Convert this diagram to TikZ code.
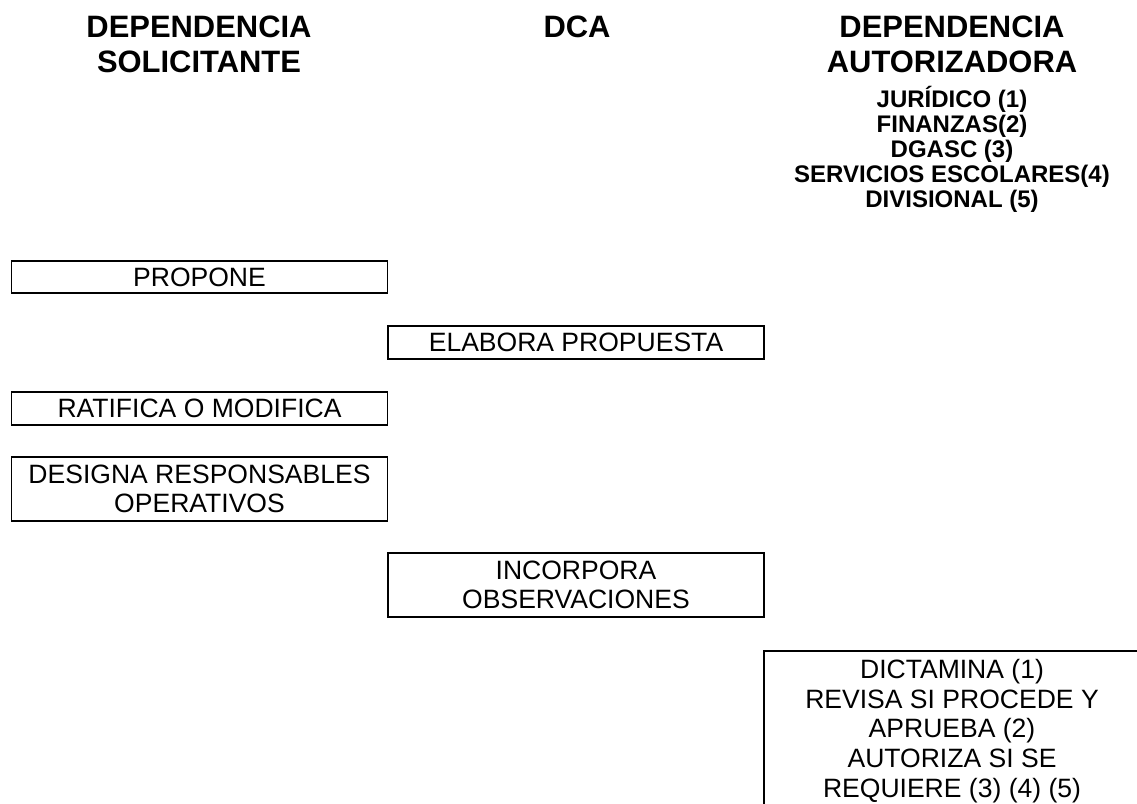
\documentclass[tikz,border=0pt]{standalone}
\usepackage{fontspec}
\setmainfont{Liberation Sans}
\begin{document}
\begin{tikzpicture}[x=0.75pt,y=-0.75pt,
  hdr/.style={anchor=base,inner sep=0pt,font=\fontsize{23.2}{26.3}\selectfont\bfseries},
  sub/.style={anchor=base,inner sep=0pt,font=\fontsize{18}{18.75}\selectfont\bfseries},
  actbox/.style={draw=black,line width=1.4pt,rectangle,align=center,inner sep=0pt,
    minimum width=282pt,font=\fontsize{19.9}{22.2}\selectfont}]
\clip (0,0) rectangle (1137,803);
\fill[white] (0,0) rectangle (1137,803);
% headers
\node[hdr] (h1a) at (199,37) {DEPENDENCIA};
\node[hdr] (h1b) at (199,72) {SOLICITANTE};
\node[hdr] (h2) at (577,37) {DCA};
\node[hdr] (h3a) at (952,37) {DEPENDENCIA};
\node[hdr] (h3b) at (952,72) {AUTORIZADORA};
\node[sub] (s1) at (952,107) {JURÍDICO (1)};
\node[sub] (s2) at (952,132) {FINANZAS(2)};
\node[sub] (s3) at (952,157) {DGASC (3)};
\node[sub] (s4) at (952,182) {SERVICIOS ESCOLARES(4)};
\node[sub] (s5) at (952,207) {DIVISIONAL (5)};
% boxes
\node[actbox,minimum height=24pt] (b1) at (199.5,277) {PROPONE};
\node[actbox,minimum height=24.5pt] (b2) at (576,342.5) {ELABORA PROPUESTA};
\node[actbox,minimum height=24.5pt] (b3) at (199.5,408.5) {RATIFICA O MODIFICA};
\node[actbox,minimum height=48pt] (b4) at (199.5,489) {DESIGNA RESPONSABLES\\OPERATIVOS};
\node[actbox,minimum height=48pt] (b5) at (576,585) {INCORPORA\\OBSERVACIONES};
\node[actbox,minimum height=120pt,anchor=north] (b6) at (952,650) {DICTAMINA (1)\\REVISA SI PROCEDE Y\\APRUEBA (2)\\AUTORIZA SI SE\\REQUIERE (3) (4) (5)};
\end{tikzpicture}
\end{document}
